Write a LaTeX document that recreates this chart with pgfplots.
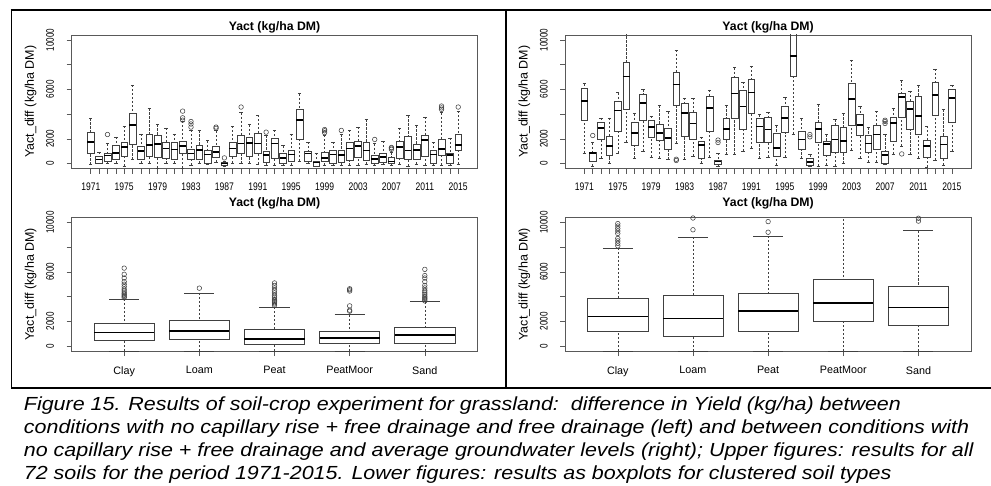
\documentclass[border=0pt]{standalone}
\usepackage{fontspec}
\setmainfont{Liberation Sans}
\usepackage{graphicx}
\usepackage{pgfplots}
\usepackage{pgfplotstable}
\usepgfplotslibrary{statistics}
\pgfplotsset{compat=1.18}

% ---------- data: pos lw q1 med q3 uw ----------
\pgfplotstableread{
pos lw q1 med q3 uw
1 -80 865 1730 2490 3650
2 0 54 325 595 920
3 50 190 650 810 1600
4 0 320 865 1460 2160
5 -200 600 1320 1730 3030
6 320 1540 3110 4030 6350
7 0 380 1000 1400 2400
8 50 600 1490 2400 4460
9 -350 540 1600 2300 3160
10 0 400 1220 1760 2890
11 0 380 1140 1680 2400
12 -350 865 1400 1840 3430
13 -100 320 810 1190 2700
14 0 380 1110 1510 2680
15 -50 55 730 1080 1860
16 100 510 950 1380 2650
17 -250 -100 0 110 200
18 50 600 1220 1680 3030
19 0 810 1620 2320 4110
20 0 600 1680 2160 3140
21 -50 865 1620 2430 3920
22 -100 110 680 1000 2270
23 -100 460 1620 2030 2700
24 -100 0 460 810 1460
25 -100 160 730 1110 2400
26 190 2000 3510 4380 5650
27 0 215 810 1000 1730
28 -250 -200 80 215 840
29 -100 160 460 950 2300
30 -150 0 730 1080 1730
31 -100 110 700 1080 2350
32 -100 240 1220 1730 2700
33 -130 540 1400 1810 2970
34 -50 300 1050 1730 3570
35 -100 0 380 700 1620
36 -50 135 540 840 1810
37 -100 0 160 490 900
38 -50 460 1350 1840 2890
39 -200 320 1050 2240 3890
40 -50 380 1110 1590 3080
41 -100 600 1920 2320 3780
42 -150 55 730 1080 1730
43 -130 700 1160 2000 4110
44 -100 55 680 810 2080
45 -50 1050 1510 2400 4240
}\ULdata
\pgfplotstableread{
x y
3 2350
12 3510
12 3700
12 4240
13 2950
13 3200
13 3400
16 2850
16 2950
17 460
19 4570
22 2540
29 2500
29 2650
29 2750
31 2680
35 1950
37 1150
37 1250
37 1300
43 4380
43 4500
43 4650
45 4570
}\ULout

\pgfplotstableread{
pos lw q1 med q3 uw
1 865 3510 5050 6050 6460
2 -200 190 865 920 1700
3 430 1950 2890 3350 3700
4 0 650 1400 2220 3700
5 865 2620 4300 5050 5730
6 1730 4380 7030 8160 10600
7 400 1460 2490 3300 4030
8 1000 3510 4920 5600 6000
9 540 2160 2950 3510 3840
10 430 1860 2490 3140 4700
11 320 1190 2080 2840 4190
12 1620 4700 6400 7400 9160
13 320 2220 4110 4840 5300
14 600 2000 3240 4110 5300
15 0 460 1490 1810 2160
16 510 2620 4510 5400 5950
17 -200 -80 160 270 850
18 730 1950 2810 3620 4700
19 730 3700 5680 6950 7760
20 1000 2810 4600 5950 6600
21 1270 4030 5730 6810 7890
22 400 1760 3000 3700 3970
23 540 1760 2760 3780 4160
24 -130 600 1240 2430 3080
25 510 2490 3700 4600 5320
26 2400 7030 8700 10600 10700
27 400 1130 1950 2620 3620
28 -200 -110 110 430 730
29 -200 1680 2810 3350 4780
30 -130 700 1600 1810 2350
31 -200 920 1950 3080 3570
32 0 950 1810 2970 4060
33 1080 3110 5240 6460 8380
34 460 2320 3110 3970 4600
35 135 950 1620 2270 2920
36 135 1190 2350 3110 4240
37 -50 0 700 1000 2350
38 780 1810 3300 3780 4430
39 1400 3780 5400 5650 6730
40 730 2810 4430 5050 5870
41 460 2350 3840 5460 6320
42 -270 510 1400 1890 3030
43 270 3890 5540 6540 7620
44 -130 400 1540 2220 4380
45 1000 3350 5320 6000 6350
}\URdata
\pgfplotstableread{
x y
2 2270
12 250
12 350
17 1700
17 1900
28 2160
28 2350
37 3240
37 3400
37 3500
39 780
}\URout

\pgfplotstableread{
pos lw q1 med q3 uw
1 -400 460 1100 1800 3810
2 -400 565 1210 2070 4300
3 -400 135 590 1370 3150
4 -400 240 670 1210 2530
5 -400 240 890 1530 3580
}\LLdata
\pgfplotstableread{
x y
1 3900
1 4000
1 4100
1 4200
1 4300
1 4450
1 4600
1 4800
1 5000
1 5200
1 5500
1 5800
1 6300
2 4680
3 3300
3 3400
3 3500
3 3600
3 3700
3 3800
3 3950
3 4100
3 4300
3 4500
3 4700
3 4900
3 5100
4 2820
4 2900
4 3250
4 4450
4 4550
4 4630
5 3650
5 3750
5 3850
5 3950
5 4050
5 4200
5 4350
5 4500
5 4700
5 4900
5 5200
5 5500
5 5700
5 6200
}\LLout

\pgfplotstableread{
pos lw q1 med q3 uw
1 -400 1160 2390 3900 7940
2 -400 810 2230 4140 8800
3 -400 1160 2820 4280 8880
4 -400 1990 3500 5410 10600
5 -400 1700 3120 4840 9330
}\LRdata
\pgfplotstableread{
x y
1 8100
1 8300
1 8500
1 8700
1 9100
1 9300
1 9500
1 9700
1 9900
2 9400
2 10350
3 9200
3 10060
5 10100
5 10330
}\LRout

\newcommand\cnd[1]{\scalebox{0.74}[1]{#1}}
\newcommand\yrl[1]{\scalebox{0.78}[1]{#1}}

\pgfplotsset{
  boxplot/rboxkeys/.style={
    draw direction=y,
    box extend=0.8, whisker extend=0.4,
    every median/.style={black, line width=1.6pt},
    draw/lower whisker/.code={%
      \draw[dash pattern=on 2.2pt off 1.8pt]
        (boxplot cs:\pgfplotsboxplotvalue{lower whisker})
        -- (boxplot cs:\pgfplotsboxplotvalue{lower quartile});
      \draw (boxplot whisker cs:\pgfplotsboxplotvalue{lower whisker},0)
        -- (boxplot whisker cs:\pgfplotsboxplotvalue{lower whisker},1);
    },
    draw/upper whisker/.code={%
      \draw[dash pattern=on 2.2pt off 1.8pt]
        (boxplot cs:\pgfplotsboxplotvalue{upper whisker})
        -- (boxplot cs:\pgfplotsboxplotvalue{upper quartile});
      \draw (boxplot whisker cs:\pgfplotsboxplotvalue{upper whisker},0)
        -- (boxplot whisker cs:\pgfplotsboxplotvalue{upper whisker},1);
    },
  },
  rbox/.style={black!75, line width=0.6pt, solid, mark=none},
  rout/.style={only marks, mark=o, mark size=2.3pt, black!75,
    mark options={line width=0.55pt}},
  rplot/.style={scale only axis, width=407pt, height=134pt,
    ymin=-400, ymax=10400, clip=true, scaled y ticks=false,
    axis line style={black!65, line width=0.6pt},
    tick align=outside, major tick length=5pt,
    tick style={black!65, line width=0.6pt},
    xtick pos=bottom, ytick pos=left,
    ytick={0,2000,4000,6000,8000,10000},
    yticklabels={\cnd{0},\cnd{2000},,\cnd{6000},,\cnd{10000}},
    yticklabel style={xshift=-9pt, rotate=90, anchor=south, font=\fontsize{11}{12}\selectfont},
    ylabel={Yact\_diff (kg/ha DM)},
    ylabel style={font=\fontsize{12.5}{13}\selectfont,
      at={(axis description cs:-0.1007,0.5)}, anchor=center},
    title={Yact (kg/ha DM)},
  },
  yearplot/.style={rplot, xmin=-1.3, xmax=47.3, xtick={1,...,45},
    xticklabels={\yrl{1971},,,,\yrl{1975},,,,\yrl{1979},,,,\yrl{1983},,,,\yrl{1987},,,,\yrl{1991},,,,\yrl{1995},,,,\yrl{1999},,,,\yrl{2003},,,,\yrl{2007},,,,\yrl{2011},,,,\yrl{2015}},
    xticklabel style={font=\fontsize{11}{12}\selectfont},
    xticklabel shift=6pt,
    title style={font=\bfseries\fontsize{12.3}{13}\selectfont,
      at={(axis description cs:0.5,1)}, anchor=base, yshift=-1.5pt},
  },
  soilplot/.style={rplot, xmin=0.3, xmax=5.7, xtick={1,...,5},
    xticklabels={Clay,Loam,Peat,PeatMoor,Sand},
    xticklabel style={font=\fontsize{10.8}{12}\selectfont},
    xticklabel shift=7pt,
    title style={font=\bfseries\fontsize{12.3}{13}\selectfont,
      at={(axis description cs:0.5,1)}, anchor=base, yshift=5pt},
  },
}

\newcommand\drawboxes[1]{%
  \pgfplotstablegetrowsof{#1}%
  \pgfmathtruncatemacro\nrows{\pgfplotsretval-1}%
  \pgfplotsforeachungrouped \i in {0,...,\nrows}{%
    \pgfplotstablegetelem{\i}{pos}\of{#1}\let\bp\pgfplotsretval
    \pgfplotstablegetelem{\i}{lw}\of{#1}\let\bl\pgfplotsretval
    \pgfplotstablegetelem{\i}{q1}\of{#1}\let\bq\pgfplotsretval
    \pgfplotstablegetelem{\i}{med}\of{#1}\let\bm\pgfplotsretval
    \pgfplotstablegetelem{\i}{q3}\of{#1}\let\bu\pgfplotsretval
    \pgfplotstablegetelem{\i}{uw}\of{#1}\let\bw\pgfplotsretval
    \edef\doplot{\noexpand\addplot[rbox, boxplot prepared={rboxkeys, draw position=\bp,
      lower whisker=\bl, lower quartile=\bq, median=\bm,
      upper quartile=\bu, upper whisker=\bw}] coordinates {};}%
    \doplot
  }%
}

\newcommand\capstyle{\fontsize{19}{23}\selectfont\itshape}
\newcommand\capA{Figure 15. Results of soil-crop experiment for grassland:\ \ difference in Yield (kg/ha) between}
\newcommand\capB{conditions with no capillary rise + free drainage and free drainage (left) and between conditions with}
\newcommand\capC{no capillary rise + free drainage and average groundwater levels (right); Upper figures: results for all}
\newcommand\capD{72 soils for the period 1971-2015. Lower figures: results as boxplots for clustered soil types}
\newlength\capw
\settowidth\capw{\capstyle\capB}

\begin{document}
\pgfmathsetmacro\capsx{948/\capw}
\begin{tikzpicture}
\useasboundingbox (0,0) rectangle (991pt,-487pt);
% frame
\draw[line width=1.3pt] (8pt,-10pt) -- (991pt,-10pt);
\draw[line width=1.3pt] (9pt,-10pt) -- (9pt,-389pt);
\draw[line width=1.3pt] (504.5pt,-10pt) -- (504.5pt,-389pt);
\draw[line width=1.3pt] (8.35pt,-389pt) -- (991pt,-389pt);

\begin{axis}[yearplot, at={(69pt,-169pt)}, anchor=south west]
\drawboxes{\ULdata}
\addplot[rout] table[x=x,y=y]{\ULout};
\end{axis}

\begin{axis}[yearplot, at={(564pt,-169pt)}, anchor=south west]
\drawboxes{\URdata}
\addplot[rout] table[x=x,y=y]{\URout};
\end{axis}

\begin{axis}[soilplot, at={(69pt,-352pt)}, anchor=south west]
\drawboxes{\LLdata}
\addplot[rout] table[x=x,y=y]{\LLout};
\end{axis}

\begin{axis}[soilplot, at={(564pt,-352pt)}, anchor=south west]
\drawboxes{\LRdata}
\addplot[rout] table[x=x,y=y]{\LRout};
\end{axis}

% caption
\node[anchor=base west, inner sep=0pt] at (21pt,-412pt) {\scalebox{\capsx}[1]{\capstyle\capA}};
\node[anchor=base west, inner sep=0pt] at (21pt,-435pt) {\scalebox{\capsx}[1]{\capstyle\capB}};
\node[anchor=base west, inner sep=0pt] at (21pt,-458pt) {\scalebox{\capsx}[1]{\capstyle\capC}};
\node[anchor=base west, inner sep=0pt] at (21pt,-480.5pt) {\scalebox{\capsx}[1]{\capstyle\capD}};
\end{tikzpicture}
\end{document}
